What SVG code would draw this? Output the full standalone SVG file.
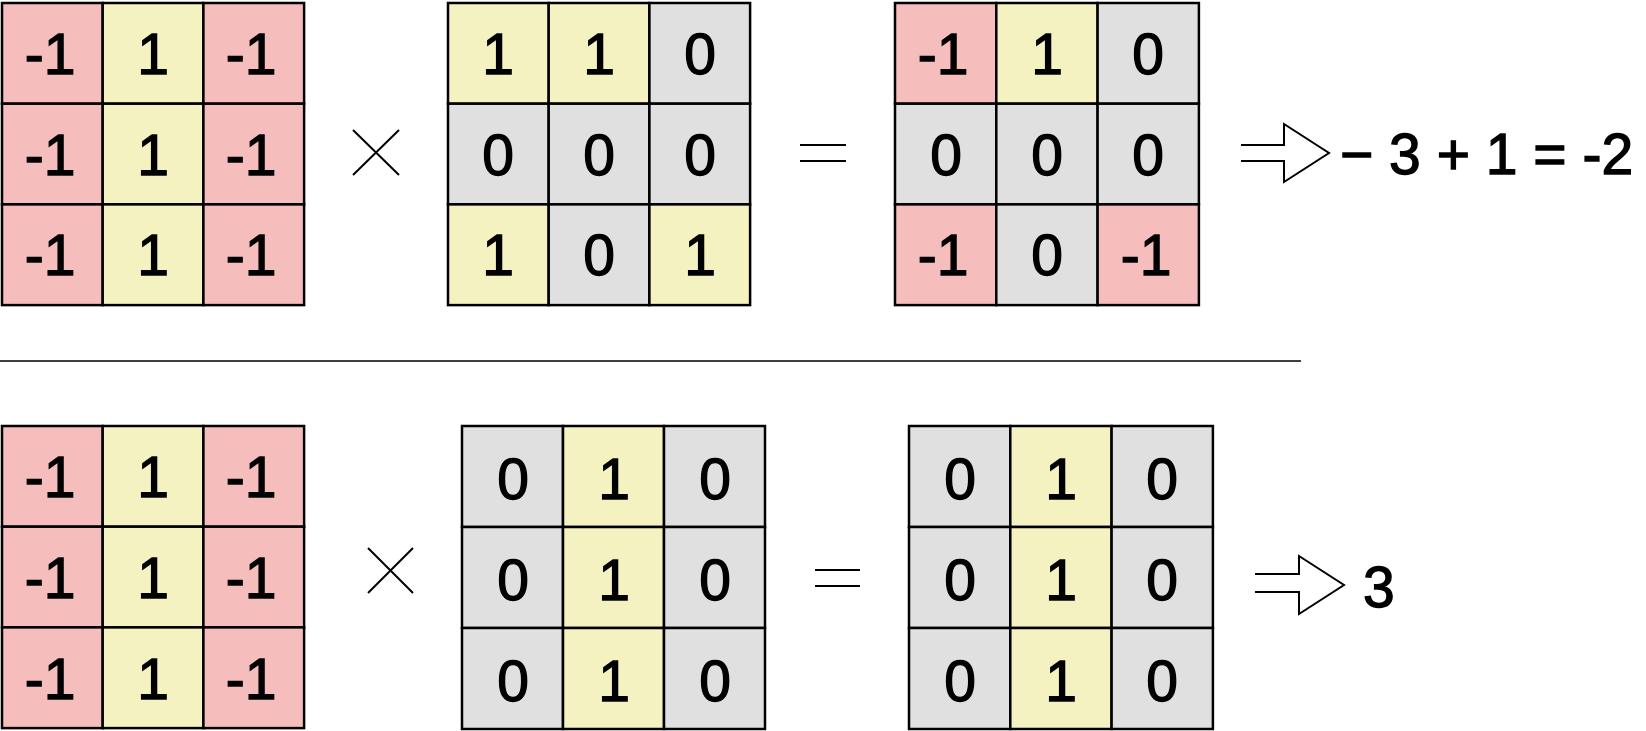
<svg xmlns="http://www.w3.org/2000/svg" width="1646" height="731" viewBox="0 0 1646 731">
<style>
.c{stroke:#000;stroke-width:2.5}
.p{fill:#F6BDBD}
.y{fill:#F5F2C2}
.g{fill:#E0E0E0}
text{font-family:"Liberation Sans",Arial,Helvetica,sans-serif;font-size:57px;fill:#000;stroke:#000;stroke-width:1.3}
.t{text-anchor:middle}
.op{stroke:#000;stroke-width:2;fill:none}
.ar{stroke:#000;stroke-width:2;fill:#fff;stroke-linejoin:miter}
</style>
<rect width="1646" height="731" fill="#fff"/>

<g id="matrixA">
<rect class="c p" x="2" y="3" width="100.7" height="100.7"/>
<rect class="c y" x="102.7" y="3" width="100.7" height="100.7"/>
<rect class="c p" x="203.4" y="3" width="100.7" height="100.7"/>
<rect class="c p" x="2" y="103.7" width="100.7" height="100.7"/>
<rect class="c y" x="102.7" y="103.7" width="100.7" height="100.7"/>
<rect class="c p" x="203.4" y="103.7" width="100.7" height="100.7"/>
<rect class="c p" x="2" y="204.4" width="100.7" height="100.7"/>
<rect class="c y" x="102.7" y="204.4" width="100.7" height="100.7"/>
<rect class="c p" x="203.4" y="204.4" width="100.7" height="100.7"/>
<text class="t" x="50" y="74">-1</text>
<text class="t" x="153" y="74">1</text>
<text class="t" x="251" y="74">-1</text>
<text class="t" x="50" y="174.5">-1</text>
<text class="t" x="153" y="174.5">1</text>
<text class="t" x="251" y="174.5">-1</text>
<text class="t" x="50" y="275">-1</text>
<text class="t" x="153" y="275">1</text>
<text class="t" x="251" y="275">-1</text>
</g>

<g id="timesTop"><path class="op" d="M353,130 L399,175 M399,130 L353,175"/></g>

<g id="matrixB">
<rect class="c y" x="448" y="3" width="100.7" height="100.7"/>
<rect class="c y" x="548.7" y="3" width="100.7" height="100.7"/>
<rect class="c g" x="649.4" y="3" width="100.7" height="100.7"/>
<rect class="c g" x="448" y="103.7" width="100.7" height="100.7"/>
<rect class="c g" x="548.7" y="103.7" width="100.7" height="100.7"/>
<rect class="c g" x="649.4" y="103.7" width="100.7" height="100.7"/>
<rect class="c y" x="448" y="204.4" width="100.7" height="100.7"/>
<rect class="c g" x="548.7" y="204.4" width="100.7" height="100.7"/>
<rect class="c y" x="649.4" y="204.4" width="100.7" height="100.7"/>
<text class="t" x="498" y="74">1</text>
<text class="t" x="599" y="74">1</text>
<text class="t" x="700" y="74">0</text>
<text class="t" x="498" y="174.5">0</text>
<text class="t" x="599" y="174.5">0</text>
<text class="t" x="700" y="174.5">0</text>
<text class="t" x="498" y="275">1</text>
<text class="t" x="599" y="275">0</text>
<text class="t" x="700" y="275">1</text>
</g>

<g id="equalsTop"><path class="op" d="M800,145 H846 M800,161 H846"/></g>

<g id="matrixC">
<rect class="c p" x="895" y="3" width="101.3" height="100.7"/>
<rect class="c y" x="996.3" y="3" width="101.3" height="100.7"/>
<rect class="c g" x="1097.6" y="3" width="101.3" height="100.7"/>
<rect class="c g" x="895" y="103.7" width="101.3" height="100.7"/>
<rect class="c g" x="996.3" y="103.7" width="101.3" height="100.7"/>
<rect class="c g" x="1097.6" y="103.7" width="101.3" height="100.7"/>
<rect class="c p" x="895" y="204.4" width="101.3" height="100.7"/>
<rect class="c g" x="996.3" y="204.4" width="101.3" height="100.7"/>
<rect class="c p" x="1097.6" y="204.4" width="101.3" height="100.7"/>
<text class="t" x="943" y="74">-1</text>
<text class="t" x="1047" y="74">1</text>
<text class="t" x="1148" y="74">0</text>
<text class="t" x="946" y="174.5">0</text>
<text class="t" x="1047" y="174.5">0</text>
<text class="t" x="1148" y="174.5">0</text>
<text class="t" x="943" y="275">-1</text>
<text class="t" x="1047" y="275">0</text>
<text class="t" x="1146" y="275">-1</text>
</g>

<g id="resultTop"><text x="1340" y="174">− 3 + 1 = -2</text></g>

<g id="separator"><line x1="0" y1="361" x2="1301" y2="361" stroke="#000" stroke-width="1.3"/></g>

<g id="matrixD">
<rect class="c p" x="2" y="426" width="100.7" height="100.7"/>
<rect class="c y" x="102.7" y="426" width="100.7" height="100.7"/>
<rect class="c p" x="203.4" y="426" width="100.7" height="100.7"/>
<rect class="c p" x="2" y="526.7" width="100.7" height="100.7"/>
<rect class="c y" x="102.7" y="526.7" width="100.7" height="100.7"/>
<rect class="c p" x="203.4" y="526.7" width="100.7" height="100.7"/>
<rect class="c p" x="2" y="627.4" width="100.7" height="100.7"/>
<rect class="c y" x="102.7" y="627.4" width="100.7" height="100.7"/>
<rect class="c p" x="203.4" y="627.4" width="100.7" height="100.7"/>
<text class="t" x="50" y="497">-1</text>
<text class="t" x="153" y="497">1</text>
<text class="t" x="251" y="497">-1</text>
<text class="t" x="50" y="598">-1</text>
<text class="t" x="153" y="598">1</text>
<text class="t" x="251" y="598">-1</text>
<text class="t" x="50" y="699">-1</text>
<text class="t" x="153" y="699">1</text>
<text class="t" x="251" y="699">-1</text>
</g>

<g id="timesBottom"><path class="op" d="M368,548 L413,593 M413,548 L368,593"/></g>

<g id="matrixE">
<rect class="c g" x="462" y="426" width="101" height="101"/>
<rect class="c y" x="563" y="426" width="101" height="101"/>
<rect class="c g" x="664" y="426" width="101" height="101"/>
<rect class="c g" x="462" y="527" width="101" height="101"/>
<rect class="c y" x="563" y="527" width="101" height="101"/>
<rect class="c g" x="664" y="527" width="101" height="101"/>
<rect class="c g" x="462" y="628" width="101" height="101"/>
<rect class="c y" x="563" y="628" width="101" height="101"/>
<rect class="c g" x="664" y="628" width="101" height="101"/>
<text class="t" x="513" y="499">0</text>
<text class="t" x="614" y="499">1</text>
<text class="t" x="715" y="499">0</text>
<text class="t" x="513" y="600">0</text>
<text class="t" x="614" y="600">1</text>
<text class="t" x="715" y="600">0</text>
<text class="t" x="513" y="701">0</text>
<text class="t" x="614" y="701">1</text>
<text class="t" x="715" y="701">0</text>
</g>

<g id="equalsBottom"><path class="op" d="M815,570 H860 M815,586 H860"/></g>

<g id="matrixF">
<rect class="c g" x="909" y="426" width="101.3" height="101"/>
<rect class="c y" x="1010.3" y="426" width="101.3" height="101"/>
<rect class="c g" x="1111.6" y="426" width="101.3" height="101"/>
<rect class="c g" x="909" y="527" width="101.3" height="101"/>
<rect class="c y" x="1010.3" y="527" width="101.3" height="101"/>
<rect class="c g" x="1111.6" y="527" width="101.3" height="101"/>
<rect class="c g" x="909" y="628" width="101.3" height="101"/>
<rect class="c y" x="1010.3" y="628" width="101.3" height="101"/>
<rect class="c g" x="1111.6" y="628" width="101.3" height="101"/>
<text class="t" x="960" y="499">0</text>
<text class="t" x="1061" y="499">1</text>
<text class="t" x="1162" y="499">0</text>
<text class="t" x="960" y="600">0</text>
<text class="t" x="1061" y="600">1</text>
<text class="t" x="1162" y="600">0</text>
<text class="t" x="960" y="701">0</text>
<text class="t" x="1061" y="701">1</text>
<text class="t" x="1162" y="701">0</text>
</g>

<g id="resultBottom"><text x="1363" y="607">3</text></g>

<g id="connectors">
<path class="ar" d="M1241,145 H1284 V124 L1329,153 L1284,182 V161 H1241"/>
<path class="ar" d="M1255,574 H1299 V556 L1344,585 L1299,614 V592 H1255"/>
</g>
</svg>
